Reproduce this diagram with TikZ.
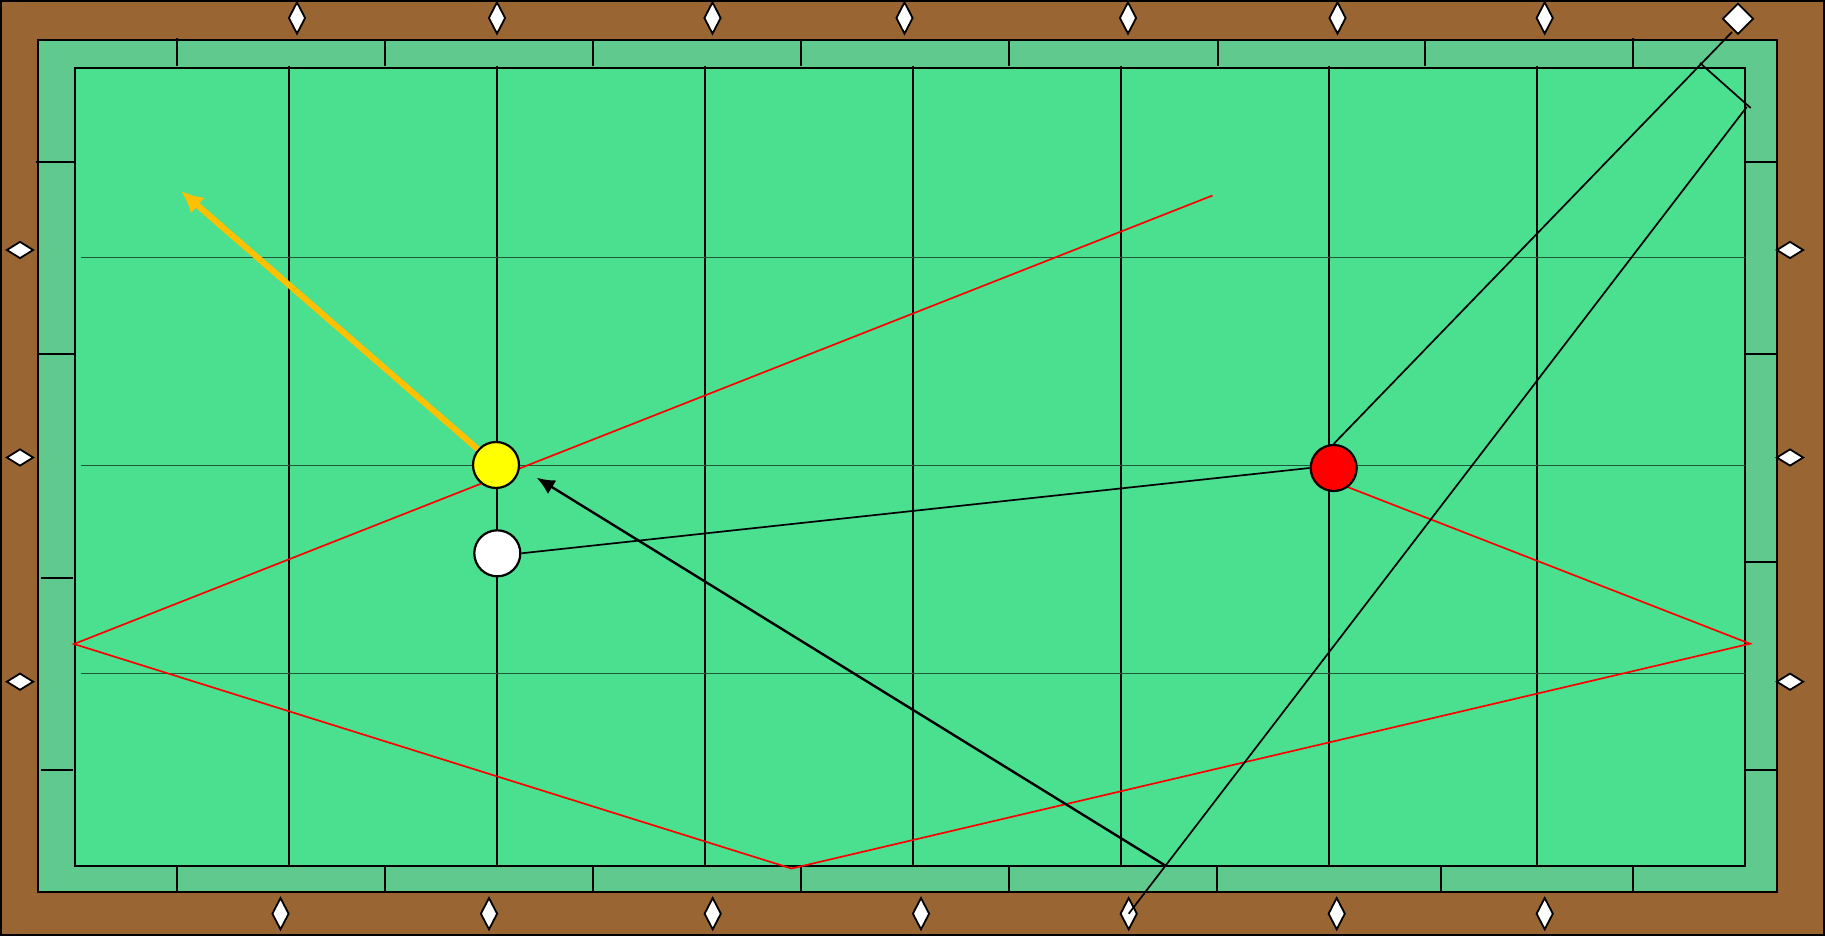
\documentclass[tikz,border=0pt]{standalone}
\usepackage{xcolor}
\usetikzlibrary{arrows.meta,shapes.geometric}
\definecolor{railbrown}{HTML}{996633}
\definecolor{cushiongreen}{HTML}{60C98D}
\definecolor{clothgreen}{HTML}{4BDF90}
\definecolor{pathred}{HTML}{FF0000}
\definecolor{shotgold}{HTML}{FFC000}
\definecolor{ballgold}{HTML}{FFFF00}
\tikzset{
  tablerect/.style={draw=black,line width=2pt},
  gridline/.style={draw=black,line width=2pt},
  sightline/.style={draw=black!60!clothgreen,line width=0.9pt},
  redpath/.style={draw=pathred,line width=1.7pt},
  cuepath/.style={draw=black,line width=1.7pt},
  ballnode/.style={circle,draw=black,line width=2.2pt,minimum size=46pt,inner sep=0pt},
  pinnode/.style={diamond,draw=black,fill=white,line width=1.8pt,inner sep=0pt}
}
\newcommand{\pinup}[3]{%
  \node[pinnode,minimum width=17pt,minimum height=32pt] (#1) at (#2,#3) {};
}
\newcommand{\pinside}[3]{%
  \node[pinnode,minimum width=27pt,minimum height=17pt] (#1) at (#2,#3) {};
}
\begin{document}
\begin{tikzpicture}[x=1pt,y=-1pt]
  \useasboundingbox (0,0) rectangle (1825,936);
  \filldraw[tablerect,fill=railbrown] (1,1) rectangle (1824,935);
  \filldraw[tablerect,fill=cushiongreen] (38,40) rectangle (1777,891.5);
  \filldraw[tablerect,fill=clothgreen] (74.5,68) rectangle (1745,865.5);

  \draw[gridline] (177,38) -- (177,66);
  \draw[gridline] (385,40) -- (385,66);
  \draw[gridline] (592.5,40) -- (592.5,66);
  \draw[gridline] (801,40) -- (801,66);
  \draw[gridline] (1009,40) -- (1009,66);
  \draw[gridline] (1217.5,40) -- (1217.5,66);
  \draw[gridline] (1425,40) -- (1425,66);
  \draw[gridline] (1633,38) -- (1633,68);

  \draw[gridline] (177,866) -- (177,893);
  \draw[gridline] (385,866) -- (385,892);
  \draw[gridline] (592.5,866) -- (592.5,892);
  \draw[gridline] (801,866) -- (801,893);
  \draw[gridline] (1009,866) -- (1009,892);
  \draw[gridline] (1217,866) -- (1217,892);
  \draw[gridline] (1441,866) -- (1441,892);
  \draw[gridline] (1633,866) -- (1633,893);

  \draw[gridline] (36,162) -- (76,162);
  \draw[gridline] (38,353.7) -- (74,353.7);
  \draw[gridline] (41,577.7) -- (73,577.7);
  \draw[gridline] (41,769.7) -- (73,769.7);
  \draw[gridline] (1745,162) -- (1777,162);
  \draw[gridline] (1745,353.7) -- (1777,353.7);
  \draw[gridline] (1745,561.7) -- (1777,561.7);
  \draw[gridline] (1745,769.7) -- (1777,769.7);

  \draw[gridline] (288.7,66) -- (288.7,866);
  \draw[gridline] (497,66) -- (497,866);
  \draw[gridline] (704.7,66) -- (704.7,866);
  \draw[gridline] (912.5,66) -- (912.5,866);
  \draw[gridline] (1121,66) -- (1121,866);
  \draw[gridline] (1329,66) -- (1329,866);
  \draw[gridline] (1536.7,66) -- (1536.7,866);

  \draw[sightline] (81,257.7) -- (1745,257.7);
  \draw[sightline] (81,465.7) -- (1745,465.7);
  \draw[sightline] (81,673) -- (1745,673);

  \pinup{pintopa}{297}{18}
  \pinup{pintopb}{497}{18}
  \pinup{pintopc}{712.5}{18}
  \pinup{pintopd}{904.5}{18}
  \pinup{pintope}{1128}{18}
  \pinup{pintopf}{1337.5}{18}
  \pinup{pintopg}{1544.7}{18}
  \node[pinnode,minimum size=31pt] (pinbig) at (1738,18.7) {};

  \pinup{pinbota}{280.5}{913.7}
  \pinup{pinbotb}{489}{913.7}
  \pinup{pinbotc}{712.7}{913.7}
  \pinup{pinbotd}{921}{913.7}
  \pinup{pinbote}{1128.7}{913.7}
  \pinup{pinbotf}{1336.7}{913.7}
  \pinup{pinbotg}{1544.7}{913.7}

  \pinside{pinlefta}{20}{250}
  \pinside{pinleftb}{20}{457.5}
  \pinside{pinleftc}{20}{681.7}
  \pinside{pinrighta}{1790}{250}
  \pinside{pinrightb}{1790}{457.5}
  \pinside{pinrightc}{1790}{681.7}

  \coordinate (redstart) at (1212.5,195.5);
  \coordinate (bankleft) at (74,644);
  \coordinate (bankbot) at (791.5,868.5);
  \coordinate (bankright) at (1750,643.7);
  \coordinate (redend) at (1345,486);
  \coordinate (bighit) at (1732,32);
  \coordinate (railhita) at (1700,63);
  \coordinate (railhitb) at (1750.7,108);
  \coordinate (railhitc) at (1746.7,107);
  \coordinate (cuetail) at (1166,866);
  \coordinate (cuetip) at (536.7,477.7);
  \coordinate (goldtip) at (181,191);

  \draw[redpath] (redstart) -- (bankleft) -- (bankbot) -- (bankright) -- (redend);

  \node[ballnode,fill=ballgold] (ballyellow) at (496,465) {};
  \node[ballnode,fill=white] (ballwhite) at (497.3,553.3) {};
  \node[ballnode,fill=pathred] (ballred) at (1333.7,468) {};

  \draw[cuepath] (ballwhite.east) -- (ballred.west);
  \draw[cuepath] (ballred.north) -- (bighit);
  \draw[cuepath] (railhita) -- (railhitb);
  \draw[cuepath] (railhitc) -- (pinbote.center);
  \draw[cuepath,line width=2.4pt,-{Latex[length=18pt,width=16pt]}] (cuetail) -- (cuetip);
  \draw[draw=shotgold,line width=6pt,-{Latex[length=22pt,width=21pt]}] (ballyellow) -- (goldtip);
\end{tikzpicture}
\end{document}
